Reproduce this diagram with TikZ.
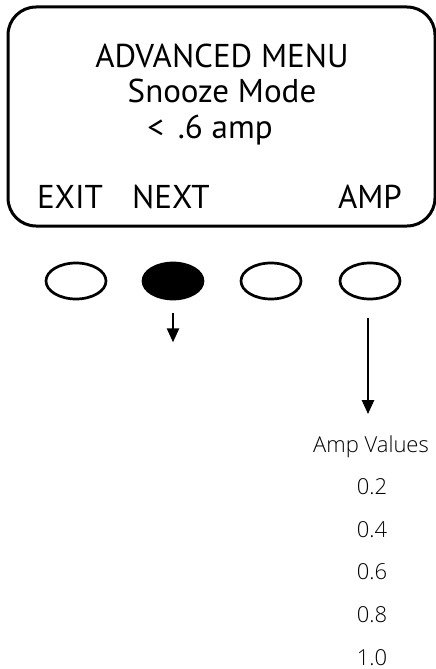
\documentclass[tikz,border=0pt]{standalone}
\usepackage{fontspec}
\setmainfont{PT Sans}
\newfontfamily\valfont{Open Sans Light}
\usetikzlibrary{arrows.meta, positioning, shapes.geometric}

\begin{document}
\begin{tikzpicture}[
    x=1pt, y=-1pt,
    screen/.style={rectangle,rounded corners=28pt,draw=black,line width=3pt,minimum width=427pt,minimum height=219pt,inner sep=0pt,outer sep=0pt},
    lcd/.style={font=\fontsize{33}{38}\selectfont,anchor=base,inner sep=0pt},
    btn/.style={ellipse,draw=black,line width=2.7pt,minimum width=60pt,minimum height=36pt,inner sep=0pt},
    val/.style={font=\valfont\fontsize{22}{26}\selectfont,anchor=base,inner sep=0pt},
    arrow/.style={-{Triangle[length=14pt,width=12pt]}, line width=2.5pt}
]
\useasboundingbox (0,0) rectangle (436,669);

\node[screen] (display) at (221.5,116.5) {};

\node[lcd] (title) at (222,67) {ADVANCED MENU};
\node[lcd] (mode) at (222,102) {Snooze Mode};
\node[lcd] (setting) at (210,138) {<\hspace{5pt} .6 amp};
\node[lcd] (exit) at (70,208) {EXIT};
\node[lcd] (next) at (171,208) {NEXT};
\node[lcd] (amp) at (370,208) {AMP};

\node[btn] (b1) at (76,281) {};
\node[btn, fill=black] (b2) at (173,281) {};
\node[btn] (b3) at (271,281) {};
\node[btn] (b4) at (370,281) {};

\node[val] (ampvals) at (371,452) {Amp Values};
\foreach \v [count=\i] in {0.2,0.4,0.6,0.8,1.0}
    \node[val] (v\i) at (372,452+42.6*\i) {\v};

\coordinate (nextdown) at ([yshift=-42pt]b2.south);
\draw[arrow] ([yshift=-13pt]b2.south) -- (nextdown);
\draw[arrow] ([xshift=-2pt,yshift=-18pt]b4.south) -- ([xshift=-2pt,yshift=21pt]b4.south |- ampvals.north);

\end{tikzpicture}
\end{document}
